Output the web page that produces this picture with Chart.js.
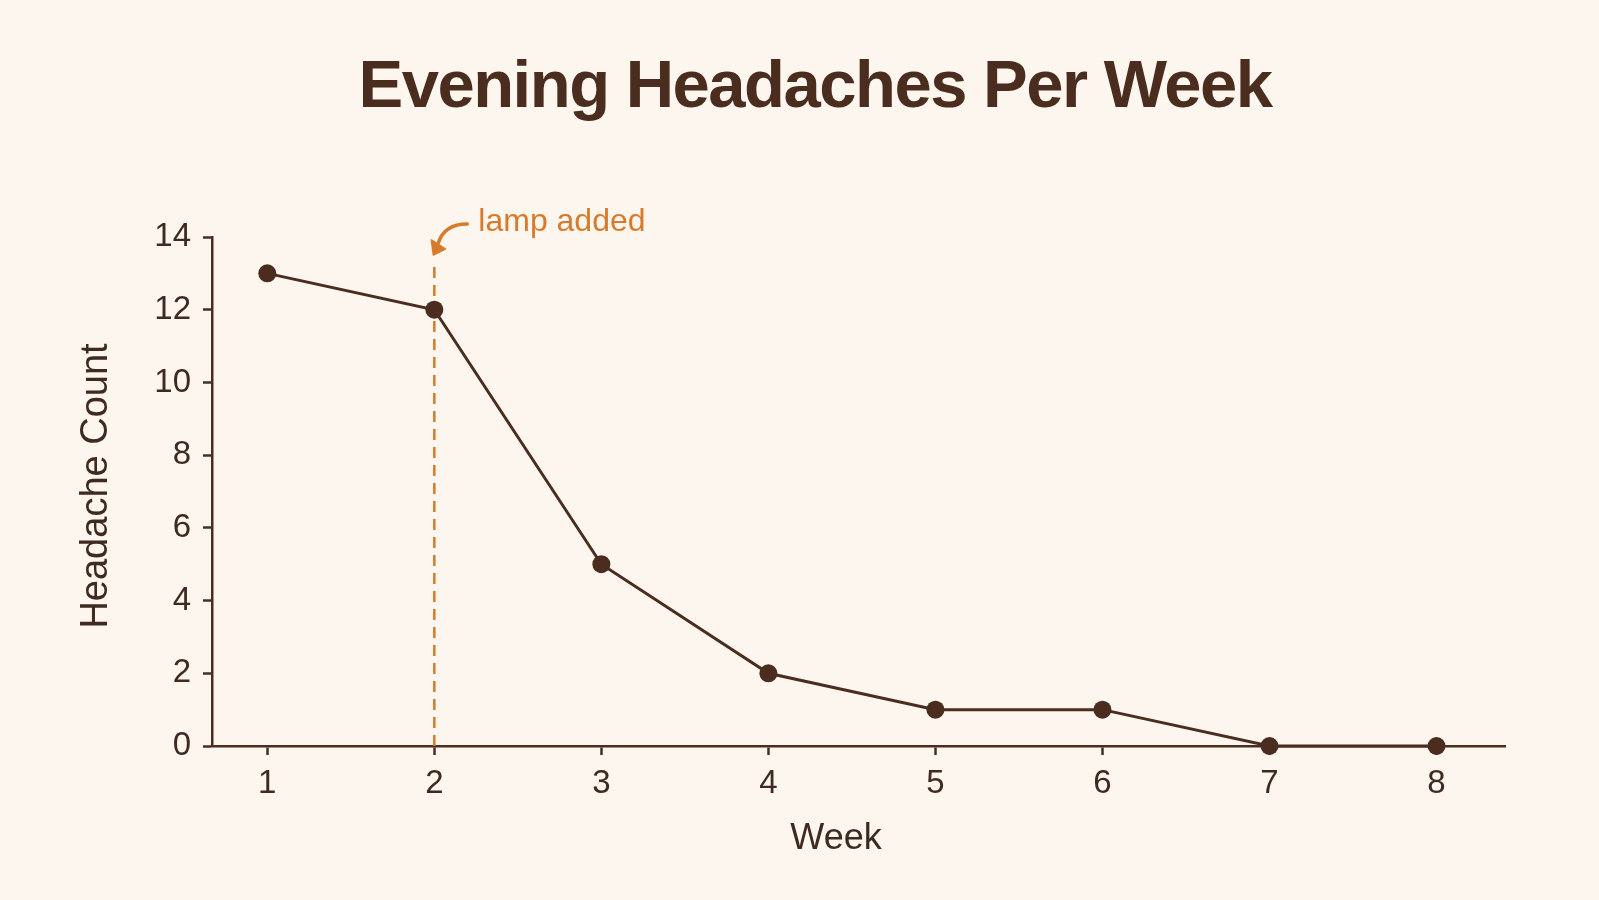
<!DOCTYPE html>
<html>
<head>
<meta charset="utf-8">
<title>Evening Headaches Per Week</title>
<script src="https://cdn.jsdelivr.net/npm/chart.js@4.4.1/dist/chart.umd.min.js"></script>
<style>
  html, body { margin: 0; padding: 0; background: #fcf6ee; }
  #wrap { width: 1599px; height: 900px; position: relative; }
</style>
</head>
<body>
<div id="wrap"><canvas id="myChart"></canvas></div>
<script>
// data
const weeks = [1, 2, 3, 4, 5, 6, 7, 8];
const headacheCounts = [13, 12, 5, 2, 1, 1, 0, 0];
const yTicks = [0, 2, 4, 6, 8, 10, 12, 14];
const lampWeek = 2;
const lampLabel = "lamp added";
const chartTitle = "Evening Headaches Per Week";
const xTitle = "Week";
const yTitle = "Headache Count";

const brown = "#4a2d1f";
const textBrown = "#3e2a1f";
const orange = "#d97a2b";
const bg = "#fcf6ee";
const fontFamily = "'Liberation Sans', Arial, Helvetica, sans-serif";

// background, titles and the lamp annotation
const decorPlugin = {
  id: "decor",
  beforeDraw(chart) {
    const ctx = chart.ctx;
    ctx.save();
    ctx.fillStyle = bg;
    ctx.fillRect(0, 0, chart.width, chart.height);

    ctx.fillStyle = brown;
    ctx.font = "bold 67px " + fontFamily;
    ctx.letterSpacing = "-1.5px";
    ctx.textAlign = "center";
    ctx.textBaseline = "alphabetic";
    ctx.fillText(chartTitle, 815, 107);
    ctx.letterSpacing = "0px";

    // axis titles
    ctx.fillStyle = textBrown;
    ctx.font = "36px " + fontFamily;
    ctx.fillText(xTitle, 836, 849);

    ctx.translate(97, 486);
    ctx.rotate(-Math.PI / 2);
    ctx.font = "38px " + fontFamily;
    ctx.textBaseline = "middle";
    ctx.fillText(yTitle, 0, 0);
    ctx.restore();
  },
  beforeDatasetsDraw(chart) {
    const ctx = chart.ctx;
    const x = chart.scales.x.getPixelForValue(lampWeek);
    const top = chart.scales.y.getPixelForValue(14);
    const bottom = chart.scales.y.getPixelForValue(0);

    ctx.save();
    // dashed marker
    ctx.strokeStyle = orange;
    ctx.lineWidth = 2.5;
    ctx.setLineDash([11, 7]);
    ctx.beginPath();
    ctx.moveTo(x, top + 30);
    ctx.lineTo(x, bottom);
    ctx.stroke();
    ctx.setLineDash([]);

    // curved arrow
    ctx.lineWidth = 3.5;
    ctx.lineCap = "round";
    ctx.beginPath();
    ctx.moveTo(x + 33, top - 13);
    ctx.quadraticCurveTo(x + 10, top - 13, x + 4, top + 6);
    ctx.stroke();
    ctx.fillStyle = orange;
    ctx.lineJoin = "round";
    ctx.lineWidth = 1.5;
    ctx.beginPath();
    ctx.moveTo(x - 1, top + 18);
    ctx.lineTo(x - 3, top + 3);
    ctx.lineTo(x + 11, top + 12);
    ctx.closePath();
    ctx.fill();
    ctx.stroke();

    // label
    ctx.font = "32px " + fontFamily;
    ctx.textAlign = "left";
    ctx.textBaseline = "alphabetic";
    ctx.fillText(lampLabel, x + 44, top - 6);
    ctx.restore();
  }
};

let ctx = document.getElementById("myChart").getContext("2d");
let myChart = new Chart(ctx, {
  type: "line",
  data: {
    datasets: [
      {
        label: "Headaches",
        data: weeks.map((w, i) => ({ x: w, y: headacheCounts[i] })),
        borderColor: brown,
        backgroundColor: brown,
        borderWidth: 3,
        pointRadius: 9,
        pointHoverRadius: 9,
        pointBackgroundColor: brown,
        pointBorderWidth: 0,
        tension: 0,
        clip: false,
      },
    ],
  },
  options: {
    responsive: true,
    maintainAspectRatio: false,
    animation: false,
    layout: { padding: { top: 237, right: 94, left: 0, bottom: 0 } },
    plugins: {
      legend: { display: false },
      title: { display: false },
      tooltip: { enabled: false },
    },
    scales: {
      x: {
        type: "linear",
        min: 0.669,
        max: 8.41,
        afterBuildTicks: (scale) => {
          scale.ticks = weeks.map((v) => ({ value: v }));
        },
        afterFit: (scale) => {
          scale.height = 154;
        },
        grid: {
          drawOnChartArea: false,
          drawTicks: true,
          tickLength: 9,
          tickColor: brown,
          tickWidth: 2.5,
        },
        border: { display: true, color: brown, width: 2.5 },
        ticks: {
          color: textBrown,
          font: { family: fontFamily, size: 33 },
          padding: 9,
          maxRotation: 0,
        },
      },
      y: {
        min: 0,
        max: 14,
        afterBuildTicks: (scale) => {
          scale.ticks = yTicks.map((v) => ({ value: v }));
        },
        afterFit: (scale) => {
          scale.width = 212;
        },
        grid: {
          drawOnChartArea: false,
          drawTicks: true,
          tickLength: 9,
          tickColor: brown,
          tickWidth: 2.5,
        },
        border: { display: true, color: brown, width: 2.5 },
        ticks: {
          color: textBrown,
          font: { family: fontFamily, size: 33 },
          padding: 12,
        },
      },
    },
  },
  plugins: [decorPlugin],
});
</script>
</body>
</html>
